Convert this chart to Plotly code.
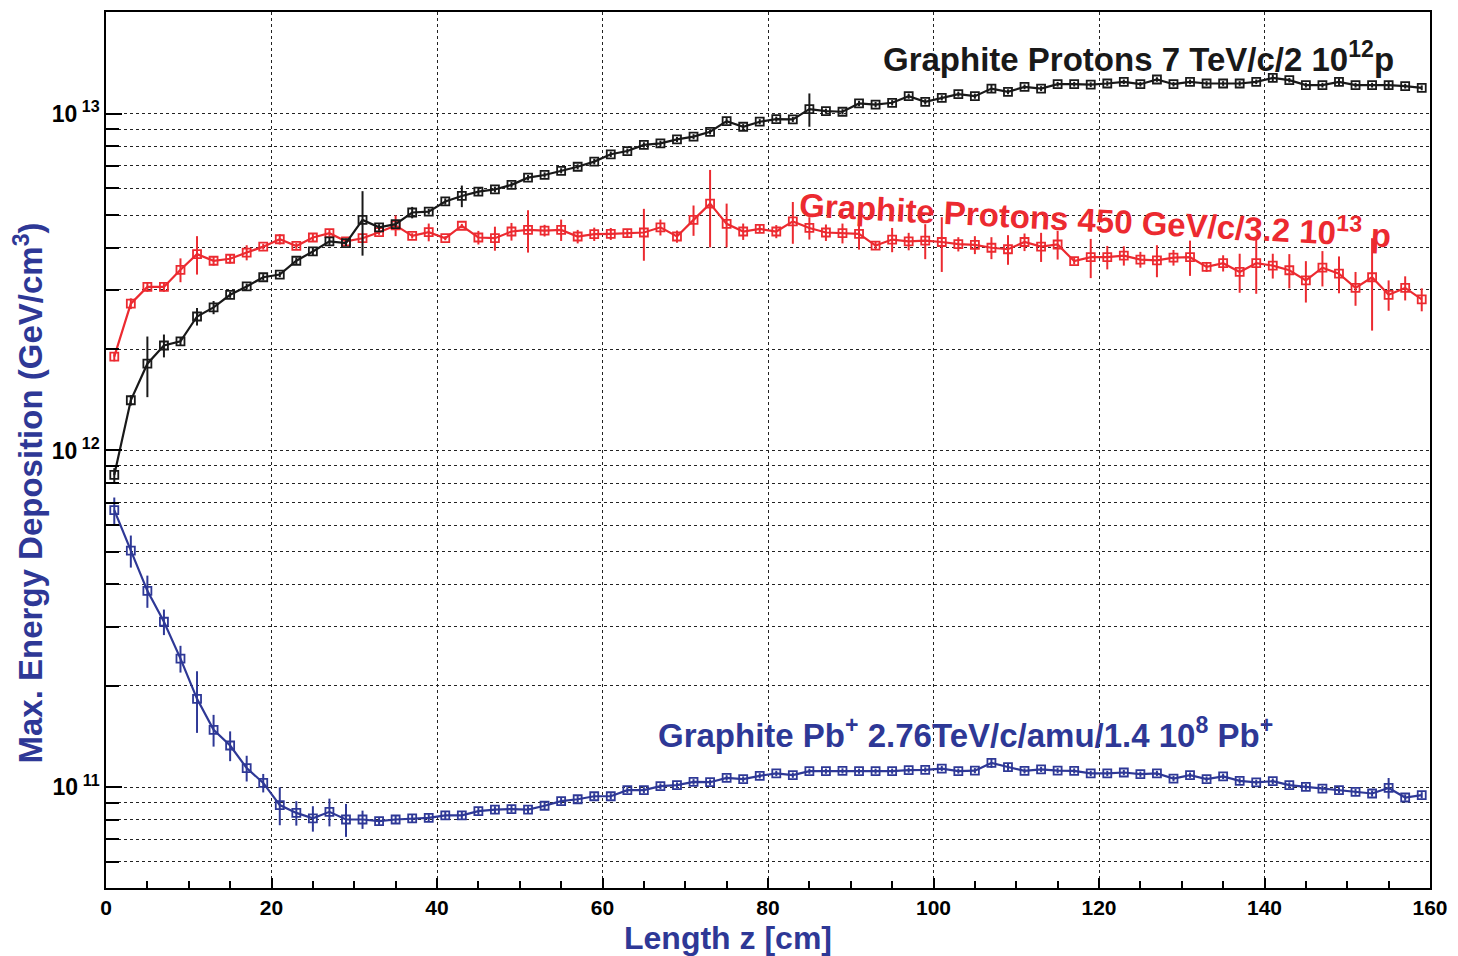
import plotly.graph_objects as go

# bin centres along the target (cm)
z_cm = [1, 3, 5, 7, 9, 11, 13, 15, 17, 19, 21, 23, 25, 27, 29, 31, 33, 35, 37, 39,
        41, 43, 45, 47, 49, 51, 53, 55, 57, 59, 61, 63, 65, 67, 69, 71, 73, 75, 77, 79,
        81, 83, 85, 87, 89, 91, 93, 95, 97, 99, 101, 103, 105, 107, 109, 111, 113, 115, 117, 119,
        121, 123, 125, 127, 129, 131, 133, 135, 137, 139, 141, 143, 145, 147, 149, 151, 153, 155, 157, 159]

# Graphite, protons 7 TeV/c, 2e12 p  (units of 1e12 GeV/cm3)
p7tev = [0.846, 1.41, 1.81, 2.05, 2.11, 2.50, 2.66, 2.90, 3.07, 3.27,
         3.33, 3.66, 3.90, 4.18, 4.13, 4.84, 4.60, 4.70, 5.09, 5.12,
         5.49, 5.70, 5.87, 5.96, 6.15, 6.46, 6.58, 6.77, 6.96, 7.21,
         7.58, 7.75, 8.08, 8.17, 8.39, 8.55, 8.84, 9.51, 9.15, 9.47,
         9.64, 9.62, 10.32, 10.18, 10.14, 10.73, 10.65, 10.78, 11.28, 10.85,
         11.15, 11.44, 11.28, 11.88, 11.62, 12.02, 11.88, 12.24, 12.24, 12.20,
         12.30, 12.44, 12.24, 12.64, 12.24, 12.44, 12.30, 12.30, 12.30, 12.44,
         12.78, 12.58, 12.16, 12.16, 12.44, 12.16, 12.16, 12.16, 12.08, 11.94]
p7tev_err = [0.04, 0.05, 0.37, 0.16, 0.06, 0.15, 0.12, 0.06, 0.06, 0.07,
             0.06, 0.08, 0.12, 0.10, 0.08, 1.05, 0.10, 0.10, 0.20, 0.10,
             0.12, 0.42, 0.15, 0.12, 0.12, 0.12, 0.12, 0.12, 0.12, 0.14,
             0.14, 0.14, 0.15, 0.15, 0.15, 0.15, 0.16, 0.20, 0.17, 0.17,
             0.17, 0.17, 1.17, 0.18, 0.18, 0.20, 0.20, 0.20, 0.20, 0.20,
             0.20, 0.20, 0.20, 0.35, 0.20, 0.20, 0.20, 0.20, 0.20, 0.20,
             0.20, 0.20, 0.20, 0.20, 0.20, 0.20, 0.20, 0.20, 0.20, 0.20,
             0.30, 0.20, 0.20, 0.20, 0.30, 0.20, 0.20, 0.30, 0.20, 0.20]

# Graphite, protons 450 GeV/c, 3.2e13 p  (units of 1e12 GeV/cm3)
p450 = [1.90, 2.73, 3.06, 3.06, 3.44, 3.83, 3.66, 3.71, 3.87, 4.03,
        4.24, 4.05, 4.29, 4.42, 4.18, 4.27, 4.45, 4.66, 4.34, 4.45,
        4.27, 4.65, 4.29, 4.27, 4.47, 4.52, 4.50, 4.52, 4.32, 4.39,
        4.40, 4.42, 4.44, 4.60, 4.32, 4.84, 5.41, 4.71, 4.47, 4.55,
        4.47, 4.79, 4.58, 4.44, 4.42, 4.40, 4.06, 4.23, 4.18, 4.20,
        4.16, 4.10, 4.08, 4.00, 3.96, 4.16, 4.03, 4.09, 3.65, 3.75,
        3.75, 3.79, 3.69, 3.67, 3.74, 3.75, 3.51, 3.60, 3.39, 3.60,
        3.54, 3.43, 3.20, 3.49, 3.35, 3.04, 3.27, 2.90, 3.04, 2.81]
p450_err = [0.06, 0.10, 0.10, 0.10, 0.28, 0.50, 0.12, 0.12, 0.20, 0.08,
            0.15, 0.08, 0.12, 0.10, 0.08, 0.10, 0.08, 0.33, 0.08, 0.27,
            0.06, 0.06, 0.20, 0.35, 0.27, 0.65, 0.18, 0.33, 0.20, 0.20,
            0.18, 0.13, 0.78, 0.25, 0.18, 0.50, 1.40, 0.70, 0.25, 0.12,
            0.20, 0.68, 0.35, 0.25, 0.30, 0.45, 0.10, 0.35, 0.25, 0.50,
            0.77, 0.20, 0.25, 0.30, 0.40, 0.25, 0.40, 0.40, 0.08, 0.50,
            0.30, 0.25, 0.20, 0.40, 0.20, 0.45, 0.12, 0.20, 0.45, 0.68,
            0.30, 0.40, 0.45, 0.42, 0.42, 0.35, 1.00, 0.30, 0.25, 0.22]

# Graphite, Pb 2.76 TeV/c/amu, 1.4e8 Pb  (units of 1e11 GeV/cm3)
pb = [6.65, 5.04, 3.83, 3.10, 2.41, 1.83, 1.48, 1.33, 1.14, 1.03,
      0.885, 0.839, 0.808, 0.845, 0.802, 0.802, 0.793, 0.802, 0.808, 0.811,
      0.825, 0.825, 0.849, 0.858, 0.861, 0.858, 0.881, 0.909, 0.921, 0.940,
      0.940, 0.980, 0.980, 1.007, 1.014, 1.037, 1.035, 1.066, 1.057, 1.081,
      1.099, 1.086, 1.116, 1.116, 1.118, 1.116, 1.116, 1.116, 1.124, 1.126,
      1.136, 1.117, 1.120, 1.181, 1.148, 1.118, 1.130, 1.120, 1.118, 1.099,
      1.099, 1.106, 1.093, 1.099, 1.061, 1.086, 1.057, 1.077, 1.044, 1.033,
      1.042, 1.014, 1.002, 0.990, 0.980, 0.969, 0.958, 0.995, 0.932, 0.947]
pb_err = [0.60, 0.55, 0.42, 0.27, 0.22, 0.38, 0.16, 0.135, 0.10, 0.065,
          0.114, 0.07, 0.07, 0.08, 0.09, 0.05, 0.02, 0.02, 0.02, 0.02,
          0.02, 0.02, 0.02, 0.02, 0.02, 0.02, 0.02, 0.02, 0.02, 0.02,
          0.02, 0.02, 0.02, 0.02, 0.02, 0.02, 0.02, 0.02, 0.02, 0.02,
          0.02, 0.02, 0.02, 0.02, 0.02, 0.02, 0.02, 0.02, 0.02, 0.02,
          0.02, 0.02, 0.02, 0.04, 0.03, 0.02, 0.02, 0.02, 0.02, 0.02,
          0.02, 0.02, 0.02, 0.02, 0.02, 0.02, 0.02, 0.02, 0.02, 0.02,
          0.02, 0.02, 0.02, 0.02, 0.02, 0.02, 0.02, 0.07, 0.02, 0.02]

x_ticks = [0, 20, 40, 60, 80, 100, 120, 140, 160]
y_major = [1e11, 1e12, 1e13]
y_major_text = ["10<sup> 11</sup>", "10<sup> 12</sup>", "10<sup> 13</sup>"]
y_minor = [m * d for d in (1e10, 1e11, 1e12, 1e13) for m in range(2, 10)]

BLACK = "rgb(25,25,25)"
RED = "rgb(236,42,48)"
BLUE = "rgb(46,56,150)"
FONT = "Liberation Sans, Arial, sans-serif"

fig = go.Figure()


def add_series(vals, errs, scale, color):
    fig.add_trace(go.Scatter(
        x=z_cm,
        y=[v * scale for v in vals],
        error_y=dict(type="data", array=[e * scale for e in errs], color=color,
                     thickness=2, width=0),
        mode="lines+markers",
        line=dict(color=color, width=2.2),
        marker=dict(symbol="square-open", size=8, color=color,
                    line=dict(width=1.8, color=color)),
        showlegend=False,
    ))


add_series(p450, p450_err, 1e12, RED)
add_series(p7tev, p7tev_err, 1e12, BLACK)
add_series(pb, pb_err, 1e11, BLUE)

fig.update_layout(
    width=1458, height=956,
    margin=dict(l=106, r=25, t=10, b=68),
    paper_bgcolor="white", plot_bgcolor="white",
    font=dict(family=FONT, color="black"),
    xaxis=dict(
        range=[0, 160], tickvals=x_ticks,
        ticks="inside", ticklen=10, tickwidth=1.5, tickcolor="black",
        showline=True, linecolor="black", linewidth=1.5, mirror=True,
        showgrid=True, gridcolor="#222", gridwidth=1, griddash="dot",
        zeroline=False,
        tickfont=dict(family=FONT, size=21, color="black", weight="bold"),
        minor=dict(dtick=5, ticks="inside", ticklen=7, tickwidth=1.5,
                   tickcolor="black", showgrid=False),
    ),
    yaxis=dict(
        type="log", range=[10.7007, 13.3022],
        tickvals=y_major, ticktext=y_major_text,
        ticks="inside", ticklen=16, tickwidth=1.5, tickcolor="black",
        showline=True, linecolor="black", linewidth=1.5, mirror=True,
        showgrid=True, gridcolor="#222", gridwidth=1, griddash="dot",
        zeroline=False,
        tickfont=dict(family=FONT, size=23, color="black", weight="bold"),
        minor=dict(tickvals=y_minor, ticks="inside", ticklen=13, tickwidth=1.5,
                   tickcolor="black", showgrid=True, gridcolor="#222",
                   gridwidth=1, griddash="dot"),
    ),
)

ann_font = dict(family=FONT, size=33, weight="bold")
fig.add_annotation(x=124.8, y=13.169, xref="x", yref="y",
                   text="Graphite Protons 7 TeV/c/2 10<sup>12</sup>p",
                   showarrow=False, xanchor="center", yanchor="middle",
                   font=dict(ann_font, color=BLACK))
fig.add_annotation(x=119.5, y=12.69, xref="x", yref="y",
                   text="Graphite Protons 450 GeV/c/3.2 10<sup>13</sup> p",
                   showarrow=False, xanchor="center", yanchor="middle",
                   textangle=3, font=dict(ann_font, color=RED))
fig.add_annotation(x=103.9, y=11.16, xref="x", yref="y",
                   text="Graphite Pb<sup>+</sup> 2.76TeV/c/amu/1.4 10<sup>8</sup> Pb<sup>+</sup>",
                   showarrow=False, xanchor="center", yanchor="middle",
                   font=dict(ann_font, color=BLUE))

# axis titles
fig.add_annotation(x=0.47, y=-0.057, xref="paper", yref="paper",
                   text="Length z [cm]", showarrow=False,
                   xanchor="center", yanchor="middle",
                   font=dict(family=FONT, size=32, weight="bold", color=BLUE))
fig.add_annotation(x=-0.0585, y=0.451, xref="paper", yref="paper",
                   text="Max. Energy Deposition (GeV/cm<sup>3</sup>)", showarrow=False,
                   xanchor="center", yanchor="middle", textangle=-90,
                   font=dict(family=FONT, size=33, weight="bold", color=BLUE))

fig.write_html("out.html")
